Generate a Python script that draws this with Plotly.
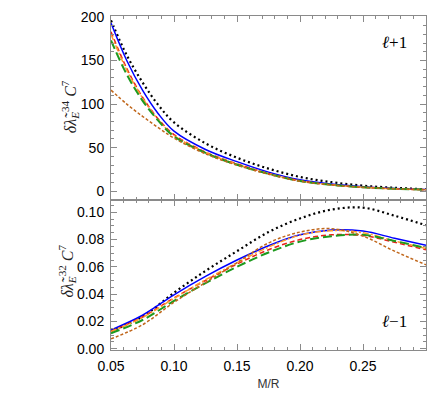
import plotly.graph_objects as go
from plotly.subplots import make_subplots

# x grid (M/R) for the two panels
x_top = [0.05, 0.0625, 0.075, 0.0875, 0.1, 0.125, 0.15, 0.175, 0.2, 0.225, 0.25, 0.275, 0.3]
x_bot = [0.05, 0.075, 0.1, 0.125, 0.15, 0.175, 0.2, 0.225, 0.25, 0.275, 0.3]

# top panel (l+1)
top_black = [196, 156, 125, 99, 79, 55, 38.5, 26, 16.5, 10.5, 6.5, 4, 2.3]
top_blue = [193, 150, 116, 89, 69, 48, 34, 22, 13.2, 8.3, 5.2, 3.2, 2.0]
top_red = [183, 141, 108, 83, 65, 45, 31.5, 20.5, 12.2, 7.6, 4.8, 3.0, 1.9]
top_orange = [180, 139, 107, 82, 64, 44.5, 31, 20.2, 12.0, 7.5, 4.7, 3.0, 1.9]
top_green = [173, 134, 104, 81, 63, 44, 30.5, 20, 11.8, 7.4, 4.6, 2.9, 1.9]
top_brown = [116, 100, 86, 73, 61, 43, 30, 19.6, 11.6, 7.2, 4.5, 2.8, 1.8]

# bottom panel (l-1)
bot_black = [0.0128, 0.0235, 0.041, 0.057, 0.0715, 0.0855, 0.0955, 0.102, 0.1034, 0.0975, 0.0905]
bot_blue = [0.0137, 0.0245, 0.0395, 0.053, 0.065, 0.0755, 0.0835, 0.087, 0.0862, 0.081, 0.0758]
bot_red = [0.0127, 0.0232, 0.0372, 0.050, 0.062, 0.0725, 0.080, 0.0835, 0.083, 0.078, 0.0725]
bot_orange = [0.0125, 0.0228, 0.0368, 0.0505, 0.063, 0.0745, 0.0832, 0.0865, 0.085, 0.079, 0.0735]
bot_green = [0.0113, 0.021, 0.035, 0.048, 0.060, 0.0705, 0.0785, 0.0825, 0.0835, 0.079, 0.0738]
bot_brown = [0.0072, 0.0175, 0.034, 0.0485, 0.063, 0.0775, 0.0855, 0.088, 0.0825, 0.0715, 0.0615]

x_tickvals = [0.05, 0.10, 0.15, 0.20, 0.25]
x_ticktext = ["0.05", "0.10", "0.15", "0.20", "0.25"]

styles = [
    ("black", "2px,3px", 2.2),
    ("#0000FF", "solid", 1.5),
    ("#E8201A", "5px,3px", 1.5),
    ("#FF9A2E", "6px,2px,2px,2px", 1.5),
    ("#1E9A1E", "9px,4px", 2.0),
    ("#C0661A", "3px,2px", 1.5),
]

fig = make_subplots(rows=2, cols=1, shared_xaxes=True, vertical_spacing=0,
                    row_heights=[0.551, 0.449])

top_series = [top_black, top_blue, top_red, top_orange, top_green, top_brown]
bot_series = [bot_black, bot_blue, bot_red, bot_orange, bot_green, bot_brown]

for (col, dash, w), ys in zip(styles, top_series):
    fig.add_trace(go.Scatter(x=x_top, y=ys, mode="lines",
                             line=dict(color=col, dash=dash, width=w, shape="spline", smoothing=1.0),
                             showlegend=False, hoverinfo="skip"), row=1, col=1)
for (col, dash, w), ys in zip(styles, bot_series):
    fig.add_trace(go.Scatter(x=x_bot, y=ys, mode="lines",
                             line=dict(color=col, dash=dash, width=w, shape="spline", smoothing=1.0),
                             showlegend=False, hoverinfo="skip"), row=2, col=1)

axis_common = dict(showline=True, linecolor="#8a8a8a", linewidth=1, mirror="ticks",
                   ticks="inside", ticklen=6, tickcolor="#8a8a8a", showgrid=False,
                   zeroline=False, ticklabelstandoff=3,
                   tickfont=dict(family="Liberation Sans, Arial", size=14, color="black"))

fig.update_xaxes(range=[0.05, 0.3], tickvals=x_tickvals, ticktext=x_ticktext,
                 minor=dict(dtick=0.01, tick0=0.05, ticklen=3, ticks="inside", tickcolor="#8a8a8a"),
                 **axis_common)
fig.update_xaxes(showticklabels=False, row=1, col=1)
fig.update_xaxes(title=dict(text="M/R", font=dict(family="Liberation Sans, Arial", size=12, color="#333"),
                            standoff=6), row=2, col=1)

fig.update_yaxes(range=[-10, 201], tickvals=[0, 50, 100, 150, 200],
                 minor=dict(dtick=10, tick0=0, ticklen=3, ticks="inside", tickcolor="#8a8a8a"),
                 **axis_common, row=1, col=1)
fig.update_yaxes(range=[-0.001, 0.109], tickvals=[0.0, 0.02, 0.04, 0.06, 0.08, 0.10],
                 ticktext=["0.00", "0.02", "0.04", "0.06", "0.08", "0.10"],
                 minor=dict(dtick=0.005, tick0=0, ticklen=3, ticks="inside", tickcolor="#8a8a8a"),
                 **axis_common, row=2, col=1)

label_font = dict(family="Liberation Serif, DejaVu Serif", size=16, color="#222")
fig.add_annotation(xref="paper", yref="paper", x=-0.13, y=0.727, textangle=-90,
                   xanchor="center", yanchor="middle",
                   text="<i>δλ̃</i><sub><i>E</i></sub><sup>34</sup> <i>C</i><sup>7</sup>",
                   showarrow=False, font=label_font)
fig.add_annotation(xref="paper", yref="paper", x=-0.14, y=0.2375, textangle=-90,
                   xanchor="center", yanchor="middle",
                   text="<i>δλ̃</i><sub><i>E</i></sub><sup>32</sup> <i>C</i><sup>7</sup>",
                   showarrow=False, font=label_font)

serif = dict(family="Liberation Serif, DejaVu Serif", size=17, color="black")
fig.add_annotation(xref="paper", yref="paper", x=0.90, y=0.921, text="<i>ℓ</i>+1",
                   xanchor="center", yanchor="middle", showarrow=False, font=serif)
fig.add_annotation(xref="paper", yref="paper", x=0.90, y=0.085, text="<i>ℓ</i>−1",
                   xanchor="center", yanchor="middle", showarrow=False, font=serif)

fig.update_layout(width=436, height=397, margin=dict(l=111, r=9, t=10, b=46),
                  plot_bgcolor="white", paper_bgcolor="white")

fig.write_html("out.html", config={"displayModeBar": False},
               post_script="document.body.style.margin='0';document.body.style.padding='0';")
